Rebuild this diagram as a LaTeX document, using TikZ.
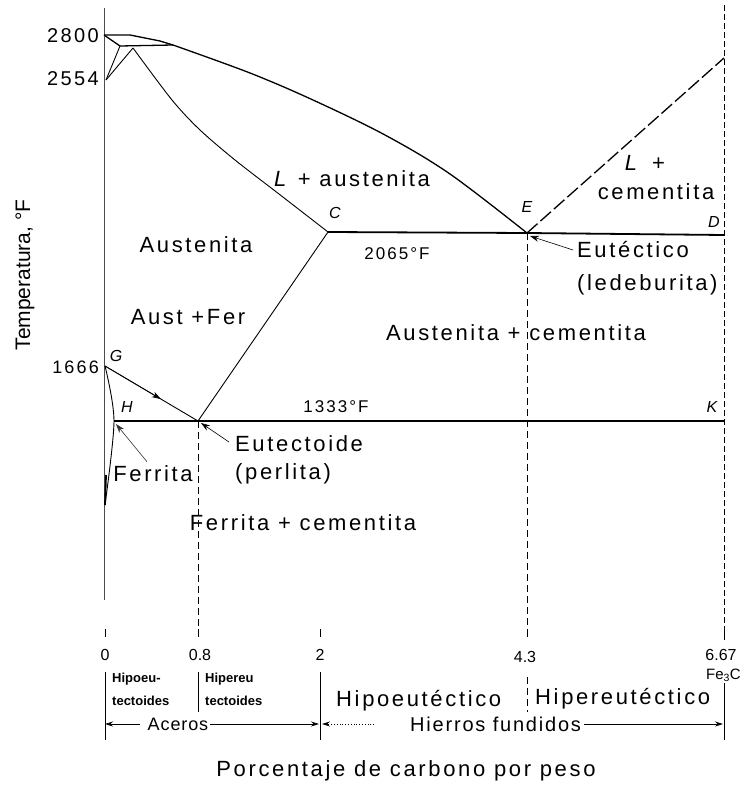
\documentclass[tikz,border=0pt]{standalone}
\usepackage{fontspec}
\setmainfont{Liberation Sans}
\newfontfamily\spaced[LetterSpace=12]{Liberation Sans}
\newfontfamily\semispaced[LetterSpace=5]{Liberation Sans}
\newfontfamily\lightspaced[LetterSpace=9]{Liberation Sans}
\usetikzlibrary{arrows.meta,calc}
\tikzset{
  lbl/.style={font=\spaced\fontsize{22}{24}\selectfont, inner sep=0pt},
  midlbl/.style={font=\spaced\fontsize{17}{19}\selectfont, inner sep=0pt},
  botlbl/.style={font=\semispaced\fontsize{18}{20}\selectfont, inner sep=0pt},
  hflbl/.style={font=\lightspaced\fontsize{20}{22}\selectfont, inner sep=0pt},
  ticklbl/.style={font=\fontsize{16}{18}\selectfont, inner sep=0pt},
  ptlbl/.style={font=\itshape\fontsize{16}{18}\selectfont, inner sep=0pt},
  tinylbl/.style={font=\bfseries\fontsize{13}{15}\selectfont, inner sep=0pt, anchor=west},
  mainln/.style={line width=1.3pt, line join=round},
  thickln/.style={line width=1.8pt},
  thinln/.style={line width=0.9pt},
  axisln/.style={line width=0.8pt, black!70},
  vdash/.style={line width=0.8pt, dash pattern=on 7pt off 4pt},
  arr/.style={-{Stealth[length=9pt,width=6pt]}, line width=0.6pt},
  barr/.style={-{Stealth[length=8pt,width=5pt]}, line width=0.8pt},
}
\begin{document}
\begin{tikzpicture}[x=1pt,y=-1pt]
\useasboundingbox (0,0) rectangle (742,787);
% ---- key points
\coordinate (A) at (104,35);
\coordinate (A1) at (130,35);
\coordinate (A2) at (160,41);
\coordinate (B) at (173,45);
\coordinate (N) at (120,46);
\coordinate (J) at (133,48);
\coordinate (Q) at (106,80);
\coordinate (C) at (328,232);
\coordinate (E) at (527,233);
\coordinate (D) at (724,235);
\coordinate (F) at (724,58);
\coordinate (G) at (105,366);
\coordinate (H) at (114,421);
\coordinate (S) at (198,421);
\coordinate (K) at (724,421);
\coordinate (P) at (105,505);
\coordinate (axTop) at (104,8);
\coordinate (axBot) at (104,600);
\coordinate (raxTop) at (724,5);
\coordinate (raxBot) at (724,640);
\coordinate (Sbot) at (198,637);
\coordinate (Ebot) at (527,637);

% ---- axes
\draw[axisln] (axTop) -- (axBot);
\draw[line width=0.7pt, dash pattern=on 6pt off 3pt] (raxTop) -- (raxBot);

% ---- delta corner
\draw[mainln] (A) -- (A1) -- (A2) -- (B);
\draw[mainln] (A) -- (N) -- (B);
\draw[thinln] (N) -- (Q);
\draw[thinln] (J) -- (Q);
% ---- liquidus
\draw[mainln] plot[smooth, tension=0.55] coordinates {(B) (250,73) (313,100) (385,135) (450,174) (E)};
\draw[mainln, dash pattern=on 14pt off 4pt] (E) -- (F);
% ---- austenite solidus / Acm
\draw[thinln] plot[smooth, tension=0.5] coordinates {(J) (172,100) (200,130) (235,160) (279,194) (C)};
\draw[thinln] (C) -- (S);
% ---- eutectic and eutectoid
\draw[thickln] (C) -- (E) -- (D);
\draw[thickln] (H) -- (K);
% ---- ferrite boundaries
\draw[thinln] (G) -- (S);
\draw[arr] (G) -- ($(G)!0.6!(S)$);
\draw[thinln] plot[smooth, tension=0.5] coordinates {(G) (H) (P)};
\draw[line width=1.8pt] (106,475) -- (P);
% ---- vertical composition lines
\draw[vdash] (S) -- (Sbot);
\draw[vdash] (E) -- (Ebot);

% ---- temperature labels
\node[lbl, font=\spaced\fontsize{20}{22}\selectfont, anchor=east] (t2800) at (99,36) {2800};
\node[lbl, font=\spaced\fontsize{20}{22}\selectfont, anchor=east] (t2554) at (99,79) {2554};
\node[lbl, font=\spaced\fontsize{18}{20}\selectfont, anchor=east] (t1666) at (99,367) {1666};
\node[inner sep=0pt, font=\fontsize{21}{23}\selectfont, rotate=90] (ylab) at (25,275) {Temperatura, °F};

% ---- point labels
\node[ptlbl] (lC) at (335,213) {C};
\node[ptlbl] (lE) at (527,207) {E};
\node[ptlbl] (lD) at (714,222) {D};
\node[ptlbl] (lK) at (712,407) {K};
\node[ptlbl] (lG) at (116,356) {G};
\node[ptlbl] (lH) at (127,407) {H};

% ---- region labels
\node[lbl] (Laus) at (352,179) {\textit{L} + austenita};
\node[lbl] (Lcem) at (645,163) {\textit{L}\, +};
\node[lbl] (cem) at (656,192) {cementita};
\node[lbl] (aus) at (196,245) {Austenita};
\node[midlbl] (t2065) at (397,254) {2065°F};
\node[lbl, anchor=west] (eut) at (577,250) {Eutéctico};
\node[lbl, anchor=west] (led) at (577,285) {(ledeburita)};
\node[lbl] (ausfer) at (188,317) {Aust +Fer};
\node[lbl] (auscem) at (516,333) {Austenita + cementita};
\node[midlbl] (t1333) at (336,407) {1333°F};
\node[lbl, anchor=west] (eutd) at (235,444) {Eutectoide};
\node[lbl, anchor=west] (perl) at (235,474) {(perlita)};
\node[lbl] (fer) at (153,474) {Ferrita};
\node[lbl] (fercem) at (303,523) {Ferrita + cementita};

% ---- leader arrows
\draw[arr] (eut.west) ++(-4,0) coordinate (eutL) -- ($(E)+(3,3)$);
\draw[arr] (eutd.west) ++(-6,-2) coordinate (eutdL) -- ($(S)+(3,2)$);
\draw[arr, black!80] ($(fer.north)+(-6,-4)$) coordinate (ferL) -- ($(H)+(2,3)$);

% ---- bottom ticks
\foreach \xx/\nm in {105/tk0, 198/tk08, 320/tk2, 527/tk43, 724/tk667}{
  \draw[line width=0.7pt] (\xx,629) coordinate (\nm) -- (\xx,637);
}
\node[ticklbl] (x0) at (105,655) {0};
\node[ticklbl] (x08) at (200,655) {0.8};
\node[ticklbl] (x2) at (320,655) {2};
\node[ticklbl] (x43) at (525,657) {4.3};
\node[ticklbl] (x667) at (721,655) {6.67};
\node[ticklbl, font=\fontsize{15}{17}\selectfont, anchor=east] (fe3c) at (741,675) {Fe\textsubscript{3}C};

% ---- bottom separators
\draw[thinln] (105,672) coordinate (s0a) -- (105,740) coordinate (s0b);
\draw[thinln] (198,672) coordinate (s1a) -- (198,712) coordinate (s1b);
\draw[thinln] (320,672) coordinate (s2a) -- (320,740) coordinate (s2b);
\draw[vdash] (527,677) coordinate (s3a) -- (527,712) coordinate (s3b);
\draw[thinln] (724,683) coordinate (s4a) -- (724,740) coordinate (s4b);

\node[tinylbl] (hipo1) at (112,679) {Hipoeu-};
\node[tinylbl] (hipo2) at (112,701) {tectoides};
\node[tinylbl] (hipe1) at (205,679) {Hipereu};
\node[tinylbl] (hipe2) at (205,701) {tectoides};
\node[lbl, anchor=west] (hipoe) at (336,701) {Hipoeutéctico};
\node[lbl, anchor=west] (hipee) at (535,699) {Hipereutéctico};

\coordinate (acL) at (105,724);
\coordinate (acR) at (319,724);
\coordinate (hfL) at (322,724);
\coordinate (hfR) at (723,724);
\node[botlbl] (aceros) at (178,724) {Aceros};
\node[hflbl, anchor=west] (hierros) at (410,724) {Hierros fundidos};
\draw[barr] ([xshift=-8pt]aceros.west) -- (acL);
\draw[barr] ([xshift=2pt]aceros.east) -- (acR);
\draw[barr, dotted] ([xshift=-36pt]hierros.west) -- (hfL);
\draw[barr] ([xshift=3pt]hierros.east) -- (hfR);

\node[lbl] (xlab) at (406,771) {Porcentaje de carbono por peso};
\end{tikzpicture}
\end{document}
